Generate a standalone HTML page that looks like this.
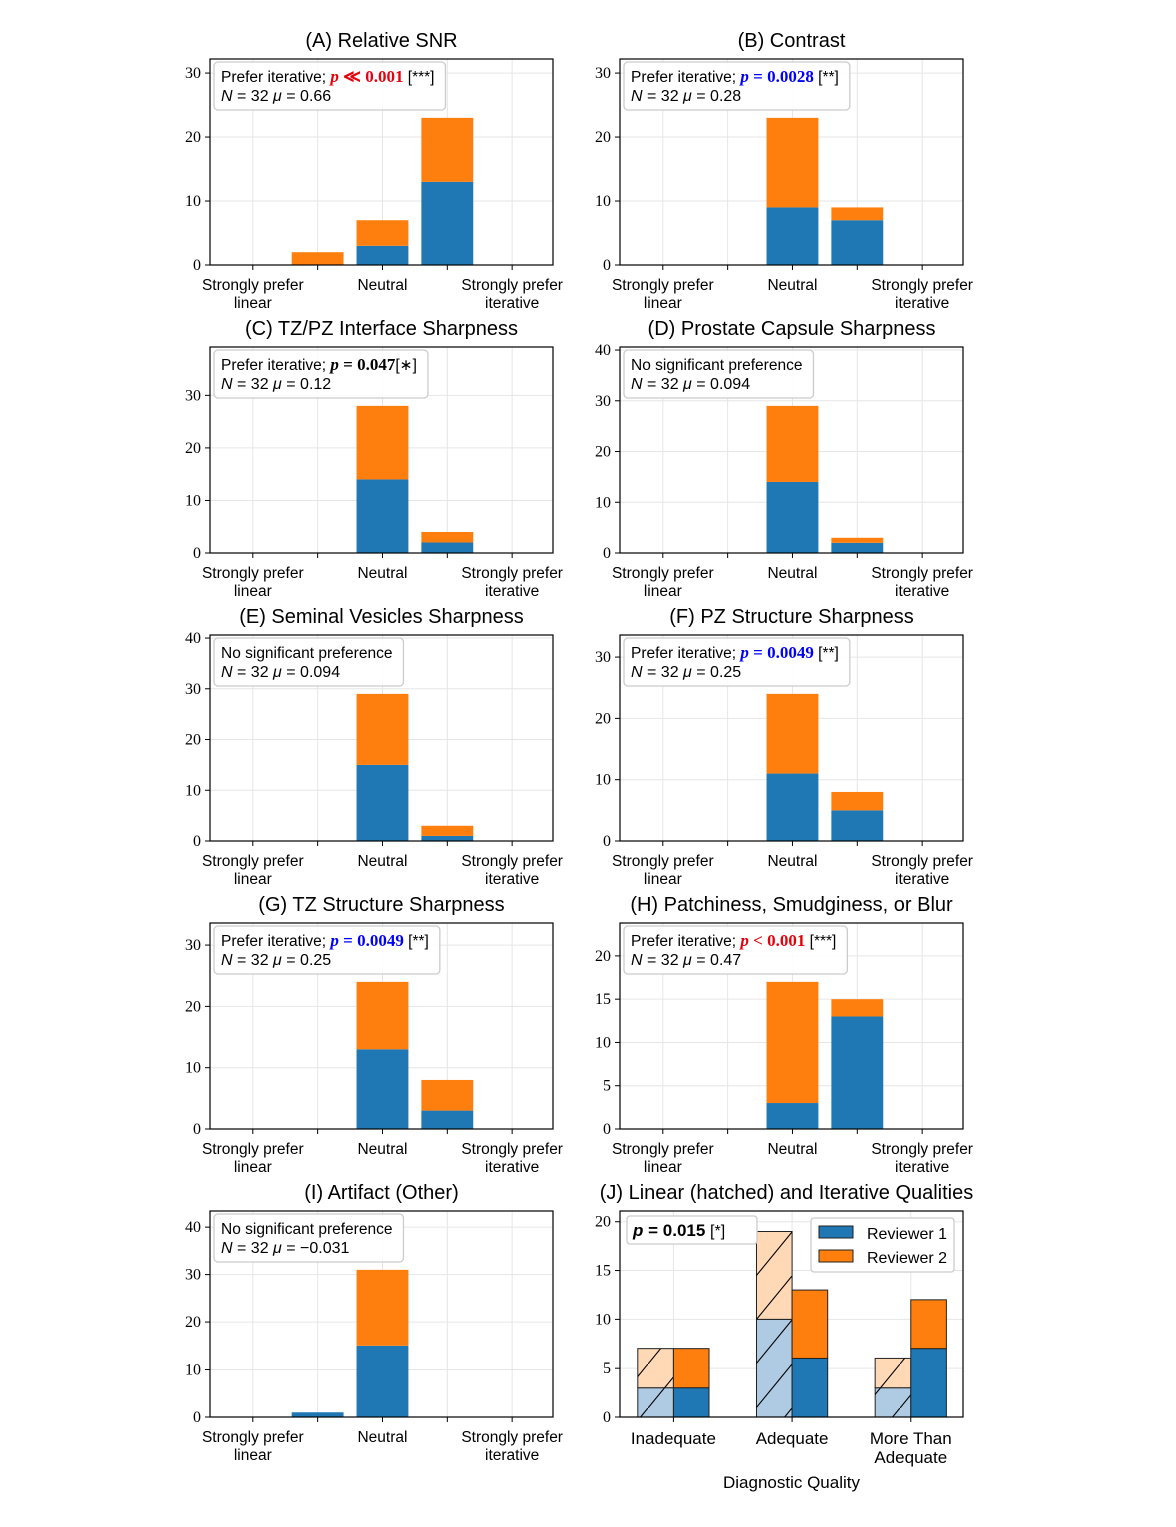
<!DOCTYPE html>
<html><head><meta charset="utf-8"><style>
body{margin:0;background:#fff;}
svg text{font-family:"Liberation Sans","DejaVu Sans",sans-serif;}
.tk{font-family:"Liberation Serif",serif;font-size:16px;}
.ti{font-size:20px;}
.xl{font-size:15.5px;}
</style></head><body>
<svg id="fig" width="1176" height="1522" xmlns="http://www.w3.org/2000/svg"></svg>
<script>
const cats = ["Strongly prefer|linear","","Neutral","","Strongly prefer|iterative"];
const titles = ["(A) Relative SNR","(B) Contrast","(C) TZ/PZ Interface Sharpness","(D) Prostate Capsule Sharpness","(E) Seminal Vesicles Sharpness","(F) PZ Structure Sharpness","(G) TZ Structure Sharpness","(H) Patchiness, Smudginess, or Blur","(I) Artifact (Other)"];
const blueA=[0,0,3,13,0], orangeA=[0,2,4,10,0];
const blueB=[0,0,9,7,0], orangeB=[0,0,14,2,0];
const blueC=[0,0,14,2,0], orangeC=[0,0,14,2,0];
const blueD=[0,0,14,2,0], orangeD=[0,0,15,1,0];
const blueE=[0,0,15,1,0], orangeE=[0,0,14,2,0];
const blueF=[0,0,11,5,0], orangeF=[0,0,13,3,0];
const blueG=[0,0,13,3,0], orangeG=[0,0,11,5,0];
const blueH=[0,0,3,13,0], orangeH=[0,0,14,2,0];
const blueI=[0,1,15,0,0], orangeI=[0,0,16,0,0];
const ticksA=[0,10,20,30], ticksC=[0,10,20,30], ticksD=[0,10,20,30,40], ticksH=[0,5,10,15,20], ticksI=[0,10,20,30,40];
const pSym=["≪","=","=","","","=","=","<",""];
const pVal=["0.001","0.0028","0.047","","","0.0049","0.0049","0.001",""];
const starText=[" [***]"," [**]","[∗]","","", " [**]"," [**]"," [***]",""];
const pColor=["#e8000b","#0000ff","#000","","","#0000ff","#0000ff","#e8000b",""];
const muText=["0.66","0.28","0.12","0.094","0.094","0.25","0.25","0.47","−0.031"];
const jCats=["Inadequate","Adequate","More Than|Adequate"];
const jLinBlue=[3,10,3], jLinOrange=[4,9,3];
const jItBlue=[3,6,7], jItOrange=[4,7,5];
const jTicks=[0,5,10,15,20];

const NS="http://www.w3.org/2000/svg";
const fig=document.getElementById('fig');
function mk(tag,attrs,parent,txt){const e=document.createElementNS(NS,tag);for(const k in attrs)e.setAttribute(k,attrs[k]);if(txt!==undefined)e.textContent=txt;(parent||fig).appendChild(e);return e;}

const blues=[blueA,blueB,blueC,blueD,blueE,blueF,blueG,blueH,blueI];
const oranges=[orangeA,orangeB,orangeC,orangeD,orangeE,orangeF,orangeG,orangeH,orangeI];
const tks=[ticksA,ticksA,ticksC,ticksD,ticksD,ticksA,ticksA,ticksH,ticksI];
const W=343,H=206,cols=[210,620],rows=[59,347,635,923,1211];

for(let i=0;i<9;i++){
  const x0=cols[i%2], y0=rows[Math.floor(i/2)];
  const g=mk('g',{});
  
  
  const b=blues[i], o=oranges[i];
  let mx=0; for(let k=0;k<5;k++) mx=Math.max(mx,b[k]+o[k]);
  const ymax=mx*1.4;
  const sx=v=>x0+(v+0.66)/5.29*W;
  const sy=v=>y0+H-v/ymax*H;
  tks[i].forEach(t=>{mk('line',{x1:x0,x2:x0+W,y1:sy(t),y2:sy(t),stroke:'#e6e6e6','stroke-width':1},g);});
  for(let k=0;k<5;k++) mk('line',{x1:sx(k),x2:sx(k),y1:y0,y2:y0+H,stroke:'#e6e6e6','stroke-width':1},g);
  for(let k=0;k<5;k++){
    const bw=0.8/5.29*W;
    if(b[k]>0){const r=mk('rect',{x:sx(k)-bw/2,y:sy(b[k]),width:bw,height:sy(0)-sy(b[k]),fill:'#1f77b4'},g);
      }
    if(o[k]>0){const r=mk('rect',{x:sx(k)-bw/2,y:sy(b[k]+o[k]),width:bw,height:sy(b[k])-sy(b[k]+o[k]),fill:'#ff7f0e'},g);
      }
  }
  mk('rect',{x:x0,y:y0,width:W,height:H,fill:'none',stroke:'#000','stroke-width':1.2},g);
  tks[i].forEach(t=>{mk('line',{x1:x0-5,x2:x0,y1:sy(t),y2:sy(t),stroke:'#000'},g);
    mk('text',{x:x0-9,y:sy(t)+5,'text-anchor':'end',class:'tk'},g,t);});
  for(let k=0;k<5;k++){mk('line',{x1:sx(k),x2:sx(k),y1:y0+H,y2:y0+H+5,stroke:'#000'},g);
    if(cats[k]){const ls=cats[k].split('|');ls.forEach((l,j)=>mk('text',{x:sx(k),y:y0+H+25+j*18,'text-anchor':'middle',class:'xl'},g,l));}}
  const tt=mk('text',{x:x0+W/2,y:y0-12,'text-anchor':'middle',class:'ti'},g,titles[i]);
  
  const ag=mk('g',{},g);
  
  const box=mk('rect',{x:x0+4,y:y0+3,height:48,width:100,rx:4,fill:'#fff','fill-opacity':0.85,stroke:'#ccc','stroke-width':1.3},ag);
  const t1=mk('text',{x:x0+11,y:y0+23,'font-size':'15.5px'},ag);
  if(pVal[i]){
    mk('tspan',{},t1,'Prefer iterative; ');
    const ps=mk('tspan',{fill:pColor[i],'font-weight':'bold','font-family':'Liberation Serif, serif','font-size':'17px'},t1);
    mk('tspan',{'font-style':'italic'},ps,'p');
    mk('tspan',{},ps,' '+pSym[i]+' '+pVal[i]);
    mk('tspan',{},t1,starText[i]);
  } else mk('tspan',{},t1,'No significant preference');
  const t2=mk('text',{x:x0+11,y:y0+42,'font-size':'16px','font-family':'Liberation Serif, serif'},ag);
  mk('tspan',{'font-style':'italic'},t2,'N');mk('tspan',{},t2,' = 32 ');mk('tspan',{'font-style':'italic'},t2,'μ');mk('tspan',{},t2,' = '+muText[i]);
  const w=Math.max(t1.getComputedTextLength(),t2.getComputedTextLength());
  box.setAttribute('width',w+18);
}

(function(){
  const x0=620,y0=1211,g=mk('g',{});
  
  const ymax=21.1;
  const sx=v=>x0+(v+0.45)/2.89*W;
  const sy=v=>y0+H-v/ymax*H;
  const defs=mk('defs',{},g);
  const pat=mk('pattern',{id:'hatch',patternUnits:'userSpaceOnUse',width:36,height:44},defs);
  mk('path',{d:'M0,44 L36,0',stroke:'#000','stroke-width':1.1},pat);
  jTicks.forEach(t=>mk('line',{x1:x0,x2:x0+W,y1:sy(t),y2:sy(t),stroke:'#e6e6e6'},g));
  for(let k=0;k<3;k++) mk('line',{x1:sx(k),x2:sx(k),y1:y0,y2:y0+H,stroke:'#e6e6e6'},g);
  const bw=0.3/2.89*W;
  for(let k=0;k<3;k++){
    const xl=sx(k)-bw, xr=sx(k);
    const add=(x,v0,v1,fill,name,hatch)=>{
      const r=mk('rect',{x:x,y:sy(v1),width:bw,height:sy(v0)-sy(v1),fill:fill,stroke:'#222','stroke-width':1},g);
      
      if(hatch) mk('rect',{x:x,y:sy(v1),width:bw,height:sy(v0)-sy(v1),fill:'url(#hatch)',stroke:'none'},g);
    };
    add(xl,0,jLinBlue[k],'#aecbe3','linear-reviewer1-'+k,true);
    add(xl,jLinBlue[k],jLinBlue[k]+jLinOrange[k],'#ffd9b6','linear-reviewer2-'+k,true);
    add(xr,0,jItBlue[k],'#1f77b4','iterative-reviewer1-'+k,false);
    add(xr,jItBlue[k],jItBlue[k]+jItOrange[k],'#ff7f0e','iterative-reviewer2-'+k,false);
  }
  mk('rect',{x:x0,y:y0,width:W,height:H,fill:'none',stroke:'#000','stroke-width':1.2},g);
  jTicks.forEach(t=>{mk('line',{x1:x0-5,x2:x0,y1:sy(t),y2:sy(t),stroke:'#000'},g);
    mk('text',{x:x0-9,y:sy(t)+5,'text-anchor':'end',class:'tk'},g,t);});
  for(let k=0;k<3;k++){mk('line',{x1:sx(k),x2:sx(k),y1:y0+H,y2:y0+H+5,stroke:'#000'},g);
    jCats[k].split('|').forEach((l,j)=>mk('text',{x:sx(k),y:y0+H+27+j*19,'text-anchor':'middle','font-size':'17px'},g,l));}
  const tt=mk('text',{x:x0+W/2-5,y:y0-12,'text-anchor':'middle',class:'ti'},g,'(J) Linear (hatched) and Iterative Qualities');
  
  const xt=mk('text',{x:x0+W/2,y:1488,'text-anchor':'middle','font-size':'17px'},g,'Diagnostic Quality');
  
  const ann=mk('g',{},g);
  mk('rect',{x:x0+7,y:y0+5,width:130,height:28,rx:3,fill:'#fff',stroke:'#ccc','stroke-width':1.3},ann);
  const t=mk('text',{x:x0+13,y:y0+25,'font-size':'17px','font-family':'Liberation Serif, serif','font-weight':'bold'},ann);
  mk('tspan',{'font-style':'italic'},t,'p');mk('tspan',{},t,' = 0.015 ');mk('tspan',{'font-family':'Liberation Sans, sans-serif','font-weight':'normal','font-size':'16px'},t,'[*]');
  const lg=mk('g',{},g);
  mk('rect',{x:811,y:1218,width:143,height:54,rx:3,fill:'#fff',stroke:'#ccc','stroke-width':1.3},lg);
  const e1=mk('g',{},lg);
  mk('rect',{x:819,y:1226,width:34,height:12,fill:'#1f77b4',stroke:'#222'},e1);
  mk('text',{x:867,y:1239,'font-size':'16px'},e1,'Reviewer 1');
  const e2=mk('g',{},lg);
  mk('rect',{x:819,y:1250,width:34,height:12,fill:'#ff7f0e',stroke:'#222'},e2);
  mk('text',{x:867,y:1263,'font-size':'16px'},e2,'Reviewer 2');
})();
</script>
</body></html>
